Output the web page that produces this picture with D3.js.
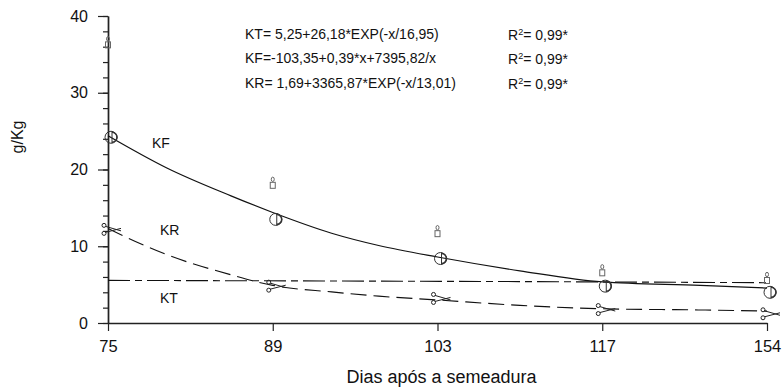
<!DOCTYPE html>
<html>
<head>
<meta charset="utf-8">
<script src="https://cdn.jsdelivr.net/npm/d3@7"></script>
<style>
  body { margin: 0; background: #fff; }
  svg { font-family: Arial, "Liberation Sans", sans-serif; }
</style>
</head>
<body>
<svg width="782" height="389"></svg>
<script>
// data
const days = [75, 89, 103, 117, 154];
const kfObs = [24.2, 13.5, 8.4, 4.8, 4.0];
const candleObs = [36.5, 18.2, 11.9, 6.8, 5.8];
const krObs = [12.2, 4.8, 3.2, 1.75, 1.2];

// fitted curves
const fitDays = [75, 80, 85.4, 89, 94, 98, 103, 110, 117, 139, 154];
const kfFit = [24.4, 20.2, 16.6, 14.4, 11.7, 10.1, 8.6, 6.8, 5.35, 4.9, 4.55];
const krFit = [12.3, 8.9, 6.3, 4.9, 4.05, 3.5, 3.0, 2.3, 1.85, 1.7, 1.55];
const ktDays = [75, 117, 154];
const ktFit = [5.55, 5.35, 5.25];

const yTicks = [0, 10, 20, 30, 40];
const equations = [
  "KT= 5,25+26,18*EXP(-x/16,95)",
  "KF=-103,35+0,39*x+7395,82/x",
  "KR= 1,69+3365,87*EXP(-x/13,01)"
];

const svg = d3.select("svg");
const width = +svg.attr("width");
const height = +svg.attr("height");
const margin = { top: 16, right: 15, bottom: 66, left: 108 };
const innerWidth = width - margin.left - margin.right;
const innerHeight = height - margin.top - margin.bottom;

const g = svg.append("g")
  .attr("transform", `translate(${margin.left}, ${margin.top})`);

// x axis is spaced by sampling date, not by day count
const xScale = d3.scaleLinear()
  .domain(days)
  .range(days.map((d, i) => i * innerWidth / (days.length - 1)));

const yScale = d3.scaleLinear()
  .domain([0, 40])
  .range([innerHeight, 0]);

// axes
const xAxisG = g.append("g")
  .attr("transform", `translate(0, ${innerHeight})`)
  .call(d3.axisBottom(xScale).tickValues(days).tickSize(8).tickPadding(9).tickSizeOuter(0));
xAxisG.selectAll("text").attr("font-size", 16.5);

const yMinor = g.append("g")
  .call(d3.axisLeft(yScale).tickValues(d3.range(0, 41, 2)).tickSize(5).tickFormat("").tickSizeOuter(0));
yMinor.selectAll("text").remove();
const yAxisG = g.append("g")
  .call(d3.axisLeft(yScale).tickValues(yTicks).tickSize(10).tickPadding(10).tickSizeOuter(0));
yAxisG.selectAll("text").attr("font-size", 16);

[xAxisG, yAxisG, yMinor].forEach(a => {
  a.select(".domain").attr("stroke", "#222").attr("stroke-width", 1.4);
  a.selectAll(".tick line").attr("stroke", "#222").attr("stroke-width", 1.2);
  a.selectAll("text").attr("fill", "#111").attr("font-family", "Arial, 'Liberation Sans', sans-serif");
});

svg.append("text")
  .attr("x", margin.left + innerWidth / 2 + 4)
  .attr("y", 383)
  .attr("text-anchor", "middle")
  .attr("font-size", 18)
  .attr("fill", "#111")
  .text("Dias após a semeadura");

svg.append("text")
  .attr("transform", "translate(23, 137) rotate(-90)")
  .attr("text-anchor", "middle")
  .attr("font-size", 16)
  .attr("fill", "#111")
  .text("g/Kg");

// fitted lines
const line = d3.line()
  .x(d => xScale(d[0]))
  .y(d => yScale(d[1]))
  .curve(d3.curveMonotoneX);

g.append("path")
  .datum(ktDays.map((d, i) => [d, ktFit[i]]))
  .attr("d", line)
  .attr("fill", "none")
  .attr("stroke", "#111")
  .attr("stroke-width", 1.1)
  .attr("stroke-dasharray", "22,5,7,5");

g.append("path")
  .datum(fitDays.map((d, i) => [d, krFit[i]]))
  .attr("d", line)
  .attr("fill", "none")
  .attr("stroke", "#111")
  .attr("stroke-width", 1.1)
  .attr("stroke-dasharray", "16,7");

g.append("path")
  .datum(fitDays.map((d, i) => [d, kfFit[i]]))
  .attr("d", line)
  .attr("fill", "none")
  .attr("stroke", "#111")
  .attr("stroke-width", 1.2);

// observed points
const candles = g.selectAll(".candle")
  .data(days.map((d, i) => [d, candleObs[i]]))
  .enter().append("g")
  .attr("class", "candle")
  .attr("transform", d => `translate(${xScale(d[0])}, ${yScale(d[1])})`)
  .attr("fill", "none")
  .attr("stroke", "#666")
  .attr("stroke-width", 1);
candles.append("rect").attr("x", -2.5).attr("y", -1).attr("width", 5).attr("height", 6);
candles.append("ellipse").attr("cx", 0).attr("cy", -4).attr("rx", 1.5).attr("ry", 2.2);

const circles = g.selectAll(".kfpt")
  .data(days.map((d, i) => [d, kfObs[i]]))
  .enter().append("g")
  .attr("class", "kfpt")
  .attr("transform", d => `translate(${xScale(d[0]) + 3}, ${yScale(d[1])})`)
  .attr("fill", "none")
  .attr("stroke", "#333");
circles.append("circle").attr("r", 6).attr("stroke-width", 1);
circles.append("line").attr("x1", 1).attr("x2", 1).attr("y1", -6).attr("y2", 6).attr("stroke-width", 1);
circles.append("path").attr("d", "M1,-5 A5,5 0 0,1 1,5").attr("stroke-width", 1.6);

const scissors = g.selectAll(".krpt")
  .data(days.map((d, i) => [d, krObs[i]]))
  .enter().append("g")
  .attr("class", "krpt")
  .attr("transform", d => `translate(${xScale(d[0]) + 3}, ${yScale(d[1])})`)
  .attr("fill", "none")
  .attr("stroke", "#222")
  .attr("stroke-width", 1);
scissors.append("circle").attr("cx", -7).attr("cy", -4).attr("r", 2);
scissors.append("circle").attr("cx", -7).attr("cy", 4).attr("r", 2);
scissors.append("path").attr("d", "M-5.5,-3 L10,1.5 M-5.5,3 L10,-1");

// curve labels
const labels = [["KF", 152, 148], ["KR", 160, 235], ["KT", 160, 303]];
svg.selectAll(".clabel")
  .data(labels)
  .enter().append("text")
  .attr("x", d => d[1])
  .attr("y", d => d[2])
  .attr("font-size", 14)
  .attr("fill", "#111")
  .text(d => d[0]);

// equations
const eqBase = [39, 63, 88];
svg.selectAll(".eq")
  .data(equations)
  .enter().append("text")
  .attr("x", 245)
  .attr("y", (d, i) => eqBase[i])
  .attr("font-size", 14)
  .attr("fill", "#111")
  .text(d => d);

const r2 = svg.selectAll(".r2")
  .data(equations)
  .enter().append("text")
  .attr("x", 508)
  .attr("y", (d, i) => eqBase[i] + 1)
  .attr("font-size", 14)
  .attr("fill", "#111");
r2.append("tspan").text("R");
r2.append("tspan").attr("font-size", 9).attr("dy", -5).text("2");
r2.append("tspan").attr("dy", 5).text("= 0,99*");
</script>
</body>
</html>
